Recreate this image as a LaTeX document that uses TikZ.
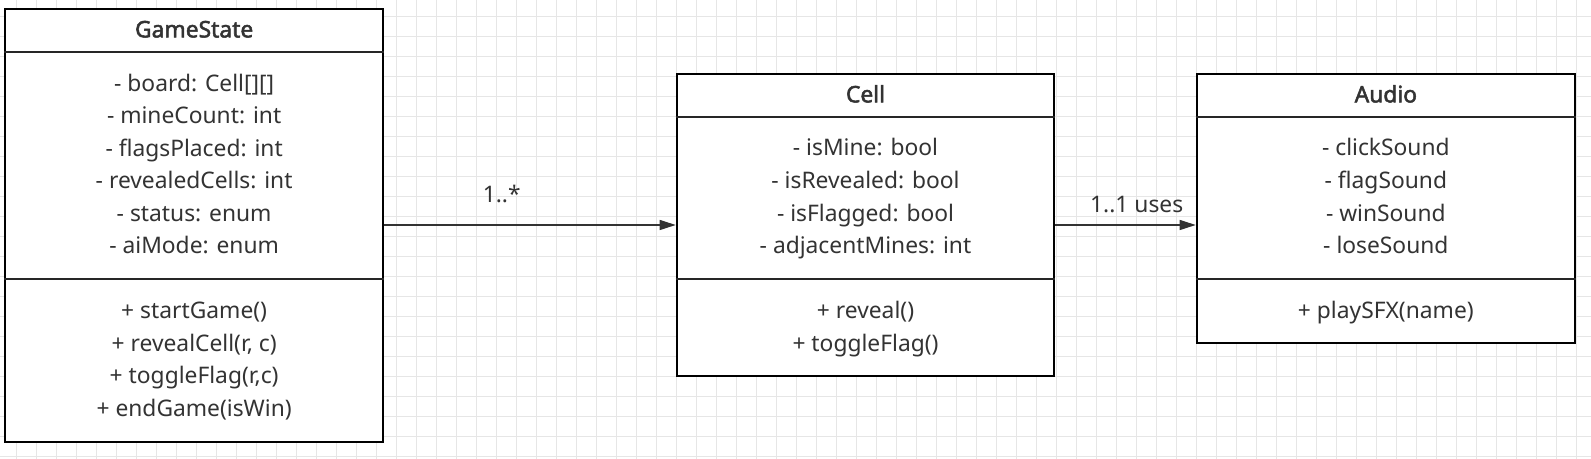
\documentclass[tikz,border=0pt]{standalone}
\usepackage{fontspec}
\setmainfont{Noto Sans}
\newfontfamily\ttlfont{Noto Sans}[FakeBold=2.2]
\usetikzlibrary{arrows.meta}
\definecolor{gridc}{HTML}{E6E6E6}
\definecolor{txtc}{HTML}{333333}
\begin{document}
\begin{tikzpicture}[x=0.5pt,y=-0.5pt,
  gridline/.style={draw=gridc, line width=0.5pt},
  umlbox/.style={draw=black, line width=1pt, fill=white, inner sep=0pt},
  sepline/.style={draw=black!85, line width=1pt},
  txt/.style={text=txtc, inner sep=0pt, text height=8pt, text depth=2.3pt, font=\fontsize{11.4}{13}\selectfont},
  ttl/.style={txt, font=\fontsize{11.4}{13}\selectfont\ttlfont},
  conn/.style={draw=txtc, line width=0.6pt, -{Triangle[length=8pt,width=5pt]}},
  lbl/.style={txt}]
\useasboundingbox (0,0) rectangle (1591,459);
\fill[white] (0,0) rectangle (1591,459);
\foreach \i in {0,...,79} \draw[gridline] ({16.7+20*\i},0) -- ({16.7+20*\i},459);
\foreach \j in {0,...,22} \draw[gridline] (0,{16.7+20*\j}) -- (1591,{16.7+20*\j});

% GameState
\node[umlbox, minimum width=189.15pt, minimum height=216.5pt] (gs) at (194.15,225.5) {};
\draw[sepline] (gs.west |- 0,51.7) -- (gs.east |- 0,51.7);
\draw[sepline] (gs.west |- 0,279.3) -- (gs.east |- 0,279.3);
\node[ttl] (gst) at (194.15,31.7) {GameState};
\node[txt] (gsa1) at (194.15,86) {- board: Cell[][]};
\node[txt] (gsa2) at (194.15,118) {- mineCount: int};
\node[txt] (gsa3) at (194.15,150.5) {- flagsPlaced: int};
\node[txt] (gsa4) at (194.15,183) {- revealedCells: int};
\node[txt] (gsa5) at (194.15,215.5) {- status: enum};
\node[txt] (gsa6) at (194.15,248) {- aiMode: enum};
\node[txt] (gsm1) at (194.15,313.3) {+ startGame()};
\node[txt] (gsm2) at (194.15,345.7) {+ revealCell(r, c)};
\node[txt] (gsm3) at (194.15,378.3) {+ toggleFlag(r,c)};
\node[txt] (gsm4) at (194.15,410.5) {+ endGame(isWin)};

% Cell
\node[umlbox, minimum width=188.8pt, minimum height=151pt] (cell) at (865.5,225) {};
\draw[sepline] (cell.west |- 0,116.7) -- (cell.east |- 0,116.7);
\draw[sepline] (cell.west |- 0,279.3) -- (cell.east |- 0,279.3);
\node[ttl] (cellt) at (865.5,96.7) {Cell};
\node[txt] (cella1) at (865.5,150) {- isMine: bool};
\node[txt] (cella2) at (865.5,183) {- isRevealed: bool};
\node[txt] (cella3) at (865.5,215.7) {- isFlagged: bool};
\node[txt] (cella4) at (865.5,248.3) {- adjacentMines: int};
\node[txt] (cellm1) at (865.5,313.3) {+ reveal()};
\node[txt] (cellm2) at (865.5,345.5) {+ toggleFlag()};

% Audio
\node[umlbox, minimum width=189.15pt, minimum height=134.65pt] (au) at (1385.85,208.65) {};
\draw[sepline] (au.west |- 0,116.7) -- (au.east |- 0,116.7);
\draw[sepline] (au.west |- 0,279.3) -- (au.east |- 0,279.3);
\node[ttl] (aut) at (1385.85,96.7) {Audio};
\node[txt] (aua1) at (1385.85,150) {- clickSound};
\node[txt] (aua2) at (1385.85,183) {- flagSound};
\node[txt] (aua3) at (1385.85,215.7) {- winSound};
\node[txt] (aua4) at (1385.85,248.3) {- loseSound};
\node[txt] (aum1) at (1385.85,313.3) {+ playSFX(name)};

% connectors
\draw[conn] (gs.east |- cell.west) -- (cell.west);
\node[lbl] (l1) at (501.7,196.7) {1..*};
\draw[conn] (cell.east) -- (au.west |- cell.east);
\node[lbl] (l2) at (1136.7,206.7) {1..1 uses};
\end{tikzpicture}
\end{document}
